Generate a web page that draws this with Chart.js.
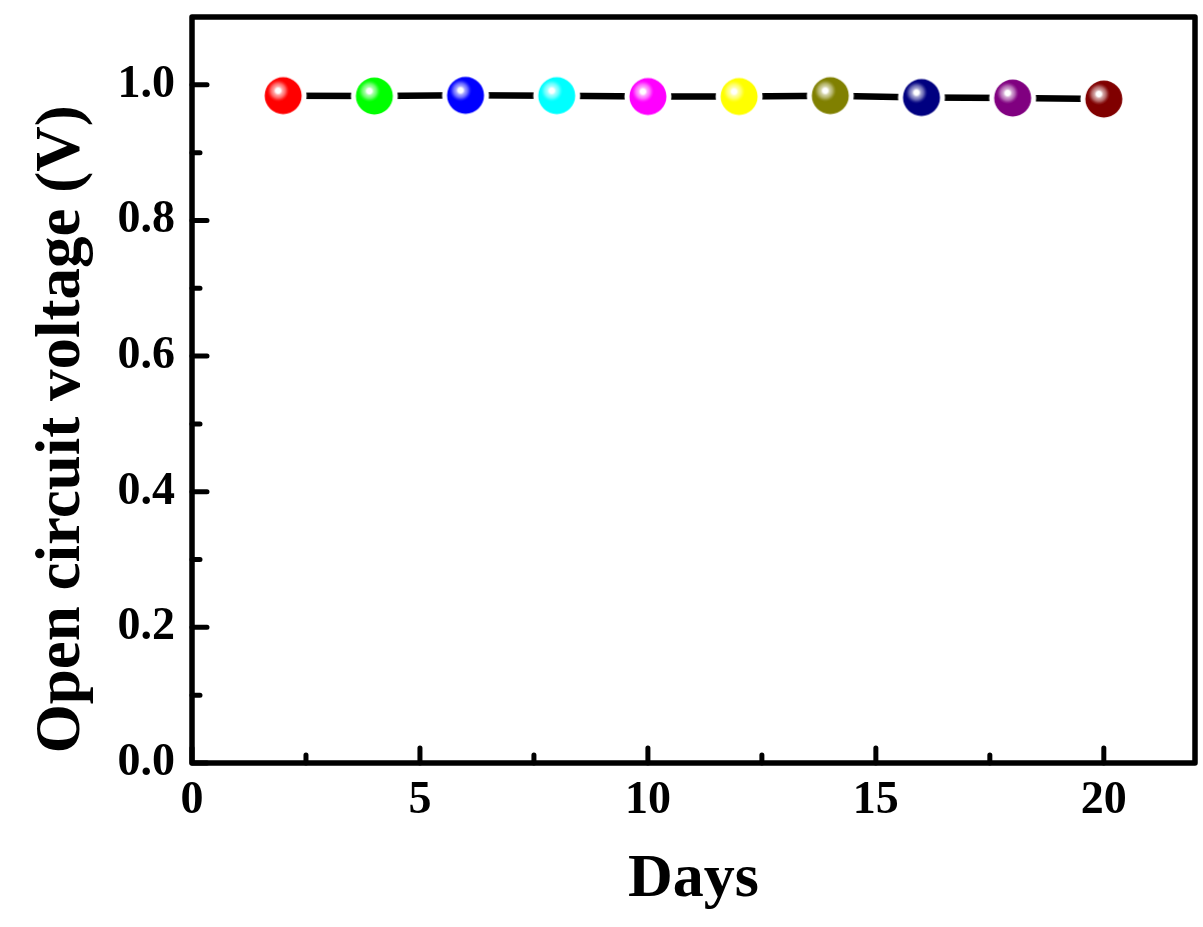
<!DOCTYPE html>
<html>
<head>
<meta charset="utf-8">
<script src="https://cdn.jsdelivr.net/npm/chart.js@4.4.1/dist/chart.umd.min.js"></script>
<style>
  html, body { margin: 0; padding: 0; background: #fff; }
  #wrap { width: 1203px; height: 927px; }
</style>
</head>
<body>
<div id="wrap"><canvas id="graph_ID"></canvas></div>
<script>
// data
var days = [2, 4, 6, 8, 10, 12, 14, 16, 18, 20];
var voc = [0.984, 0.9835, 0.9845, 0.984, 0.9827, 0.9827, 0.984, 0.9813, 0.9805, 0.979];
var ballColors = ['#ff0000', '#00ff00', '#0000ff', '#00ffff', '#ff00ff',
                  '#ffff00', '#808000', '#000080', '#800080', '#800000'];
var xTitle = 'Days';
var yTitle = 'Open circuit voltage (V)';

var fontFamily = "'Liberation Serif', 'Times New Roman', serif";

// shiny ball marker with a white ring so the line stops short of it
function makeBall(color)
{
  var size = 50, c = size / 2;
  var cv = document.createElement('canvas');
  cv.width = size; cv.height = size;
  var g = cv.getContext('2d');
  g.fillStyle = '#ffffff';
  g.beginPath(); g.arc(c, c, 23.5, 0, Math.PI * 2); g.fill();
  g.fillStyle = color;
  g.beginPath(); g.arc(c, c, 18.5, 0, Math.PI * 2); g.fill();
  var hx = c - 5, hy = c - 5;
  var grad = g.createRadialGradient(hx, hy, 0, hx, hy, 11);
  grad.addColorStop(0, 'rgba(255,255,255,1)');
  grad.addColorStop(0.22, 'rgba(255,255,255,1)');
  grad.addColorStop(0.4, 'rgba(255,255,255,0.65)');
  grad.addColorStop(0.65, 'rgba(255,255,255,0.4)');
  grad.addColorStop(0.85, 'rgba(255,255,255,0.12)');
  grad.addColorStop(1, 'rgba(255,255,255,0)');
  g.fillStyle = grad;
  g.beginPath(); g.arc(c, c, 18.5, 0, Math.PI * 2); g.fill();
  return cv;
}
var balls = ballColors.map(makeBall);

// frame + inward ticks (major and minor), like Origin
var framePlugin = {
  id: 'frame',
  beforeDatasetsDraw: function(chart)
  {
    var ctx = chart.ctx, a = chart.chartArea;
    var xs = chart.scales.x, ys = chart.scales.y;
    ctx.save();
    ctx.strokeStyle = '#000';
    ctx.lineWidth = 5.5;
    ctx.lineCap = 'round';
    ctx.lineJoin = 'round';
    ctx.strokeRect(a.left, a.top, a.right - a.left, a.bottom - a.top);

    ctx.lineWidth = 5;
    ctx.beginPath();
    xs.ticks.forEach(function(t) {
      var px = xs.getPixelForValue(t.value);
      ctx.moveTo(px, a.bottom); ctx.lineTo(px, a.bottom - 15);
      var m = t.value + 2.5;
      if (m < xs.max) {
        var pm = xs.getPixelForValue(m);
        ctx.moveTo(pm, a.bottom); ctx.lineTo(pm, a.bottom - 8);
      }
    });
    ys.ticks.forEach(function(t) {
      var py = ys.getPixelForValue(t.value);
      ctx.moveTo(a.left, py); ctx.lineTo(a.left + 15, py);
      var m = t.value + 0.1;
      if (m < ys.max - 0.01) {
        var pm = ys.getPixelForValue(m);
        ctx.moveTo(a.left, pm); ctx.lineTo(a.left + 8, pm);
      }
    });
    ctx.stroke();
    ctx.restore();
  }
};

var options = {
  responsive: true,
  maintainAspectRatio: false,
  animation: false,
  layout: { autoPadding: false, padding: { top: 17, right: 8, left: 0, bottom: 0 } },
  plugins: {
    legend: { display: false },
    tooltip: { enabled: false }
  },
  scales: {
    x: {
      type: 'linear',
      min: 0, max: 22,
      grid: { display: false, drawTicks: false },
      border: { display: false },
      ticks: {
        stepSize: 5, includeBounds: false, padding: 11,
        color: '#000',
        font: { family: fontFamily, size: 46, weight: 'bold' }
      },
      title: {
        display: true, text: xTitle, color: '#000',
        font: { family: fontFamily, size: 62, weight: 'bold' },
        padding: { top: 0, bottom: 10 }
      },
      afterFit: function(s) { s.height = 164; s.paddingLeft = 0; s.paddingRight = 0; }
    },
    y: {
      type: 'linear',
      min: 0, max: 1.1,
      grid: { display: false, drawTicks: false },
      border: { display: false },
      ticks: {
        stepSize: 0.2, includeBounds: false, padding: 17,
        color: '#000',
        font: { family: fontFamily, size: 46, weight: 'bold' },
        callback: function(v) { return v.toFixed(1); }
      },
      title: {
        display: true, text: yTitle + '\u00a0\u00a0\u00a0\u00a0\u00a0', color: '#000',
        font: { family: fontFamily, size: 63, weight: 'bold' },
        padding: { top: 25, bottom: 0 }
      },
      afterFit: function(s) { s.width = 192; s.paddingTop = 0; s.paddingBottom = 0; }
    }
  }
};

var mychart = document.getElementById('graph_ID').getContext('2d');
var graphique = new Chart(mychart, {
  type: 'line',
  data: {
    datasets: [{
      label: 'Voc',
      data: days.map(function(d, i) { return { x: d, y: voc[i] }; }),
      borderColor: '#000',
      borderWidth: 6.5,
      tension: 0,
      pointStyle: function(c) { return balls[c.dataIndex]; },
      pointRadius: 18.5,
      pointHoverRadius: 18.5
    }]
  },
  options: options,
  plugins: [framePlugin]
});
</script>
</body>
</html>
